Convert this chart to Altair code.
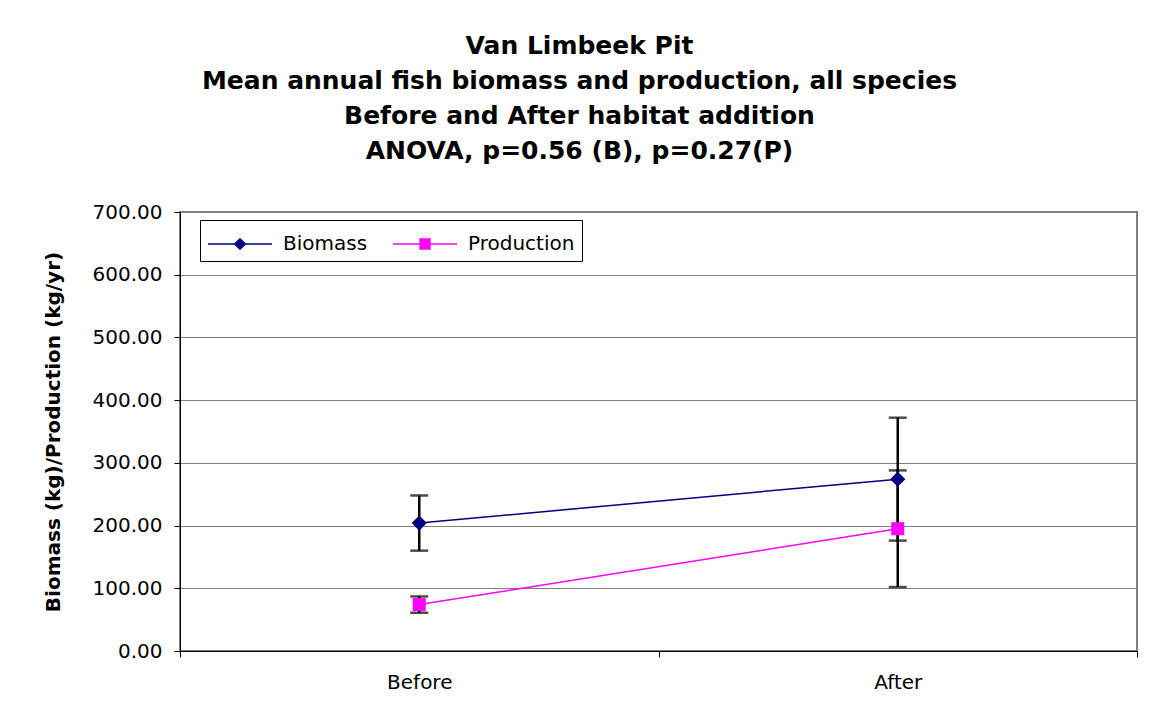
import altair as alt
import pandas as pd

categories = ["Before", "After"]
biomass = [204, 274]
biomass_err = [44, 98]
production = [74, 195]
production_err = [13, 93]
series_names = ["Biomass", "Production"]
series_colors = ["#000080", "#FF00FF"]
y_ticks = [0, 100, 200, 300, 400, 500, 600, 700]

rows = []
for i, c in enumerate(categories):
    rows.append({"cat": c, "pos": i + 0.5, "series": "Biomass", "value": biomass[i],
                 "lo": biomass[i] - biomass_err[i], "hi": biomass[i] + biomass_err[i]})
    rows.append({"cat": c, "pos": i + 0.5, "series": "Production", "value": production[i],
                 "lo": production[i] - production_err[i], "hi": production[i] + production_err[i]})
df = pd.DataFrame(rows)

FONT = "DejaVu Sans"

x_enc = alt.X("pos:Q",
              scale=alt.Scale(domain=[0, 2], nice=False, zero=False),
              axis=alt.Axis(values=[0, 0.5, 1, 1.5, 2],
                            labelExpr="datum.value == 0.5 ? 'Before' : (datum.value == 1.5 ? 'After' : '')",
                            tickOpacity={"condition": {"test": "datum.value % 1 != 0", "value": 0}, "value": 1},
                            title=None, grid=False, domainColor="black", tickColor="black",
                            tickSize=6, labelPadding=15, labelFont=FONT, labelFontSize=20,
                            labelColor="black", labelFlush=False))
y_enc = alt.Y("value:Q",
              scale=alt.Scale(domain=[0, 700], nice=False),
              axis=alt.Axis(values=y_ticks, format=".2f",
                            title="Biomass (kg)/Production (kg/yr)",
                            titleFont=FONT, titleFontSize=20, titleFontWeight="bold",
                            titleColor="black", titlePadding=29,
                            labelFont=FONT, labelFontSize=20, labelColor="black",
                            labelPadding=12, tickSize=6, tickColor="black",
                            domainColor="black", grid=True, gridColor="#808080",
                            gridWidth=1))

base = alt.Chart(df)

lines = []
markers = []
for name, col, shp, sz in zip(series_names, series_colors, ["diamond", "square"], [230, 170]):
    lines.append(base.transform_filter(alt.datum.series == name)
                 .mark_line(color=col, strokeWidth=1.5)
                 .encode(x=x_enc, y=y_enc))
    markers.append(base.transform_filter(alt.datum.series == name)
                   .mark_point(shape=shp, filled=True, color=col, opacity=1, size=sz)
                   .encode(x="pos:Q", y="value:Q"))

err_rule = base.mark_rule(color="black", strokeWidth=2.5).encode(x="pos:Q", y="lo:Q", y2="hi:Q")
cap_lo = base.mark_tick(color="black", orient="horizontal", size=18, thickness=2.5).encode(x="pos:Q", y="lo:Q")
cap_hi = base.mark_tick(color="black", orient="horizontal", size=18, thickness=2.5).encode(x="pos:Q", y="hi:Q")

path_b = "M-1,0H3M1,-0.33L1.33,0L1,0.33L0.67,0Z"
path_p = "M-1,0H3M0.69,-0.31H1.31V0.31H0.69Z"

legend_layer = base.transform_filter("false").mark_point(filled=True, opacity=1, strokeWidth=1.5).encode(
    x="pos:Q", y="value:Q",
    color=alt.Color("series:N", scale=alt.Scale(domain=series_names, range=series_colors),
                    legend=alt.Legend(orient="none", legendX=20, legendY=8, direction="horizontal",
                                      title=None, strokeColor="black", fillColor="white",
                                      padding=7, symbolSize=1024, symbolStrokeWidth=1.5,
                                      labelOffset=42, columnPadding=22, labelFont=FONT,
                                      labelFontSize=20, labelColor="black", symbolOpacity=1,
                                      cornerRadius=0)),
    stroke=alt.Stroke("series:N", scale=alt.Scale(domain=series_names, range=series_colors)),
    shape=alt.Shape("series:N", scale=alt.Scale(domain=series_names, range=[path_b, path_p])),
)

chart = alt.layer(*lines, err_rule, cap_lo, cap_hi, *markers, legend_layer).properties(
    width=957, height=439,
    title=alt.TitleParams(
        text=["Van Limbeek Pit",
              "Mean annual fish biomass and production, all species",
              "Before and After habitat addition",
              "ANOVA, p=0.56 (B), p=0.27(P)"],
        font=FONT, fontSize=25, fontWeight="bold", color="black",
        lineHeight=35, anchor="middle", dx=-79, offset=38),
    padding={"left": 172, "top": 204, "right": 4, "bottom": 60},
    autosize=alt.AutoSizeParams(type="none"),
    background="white",
).configure_view(stroke="#808080", strokeWidth=2)

chart.save("out.html", embed_options={"renderer": "svg", "actions": False})
